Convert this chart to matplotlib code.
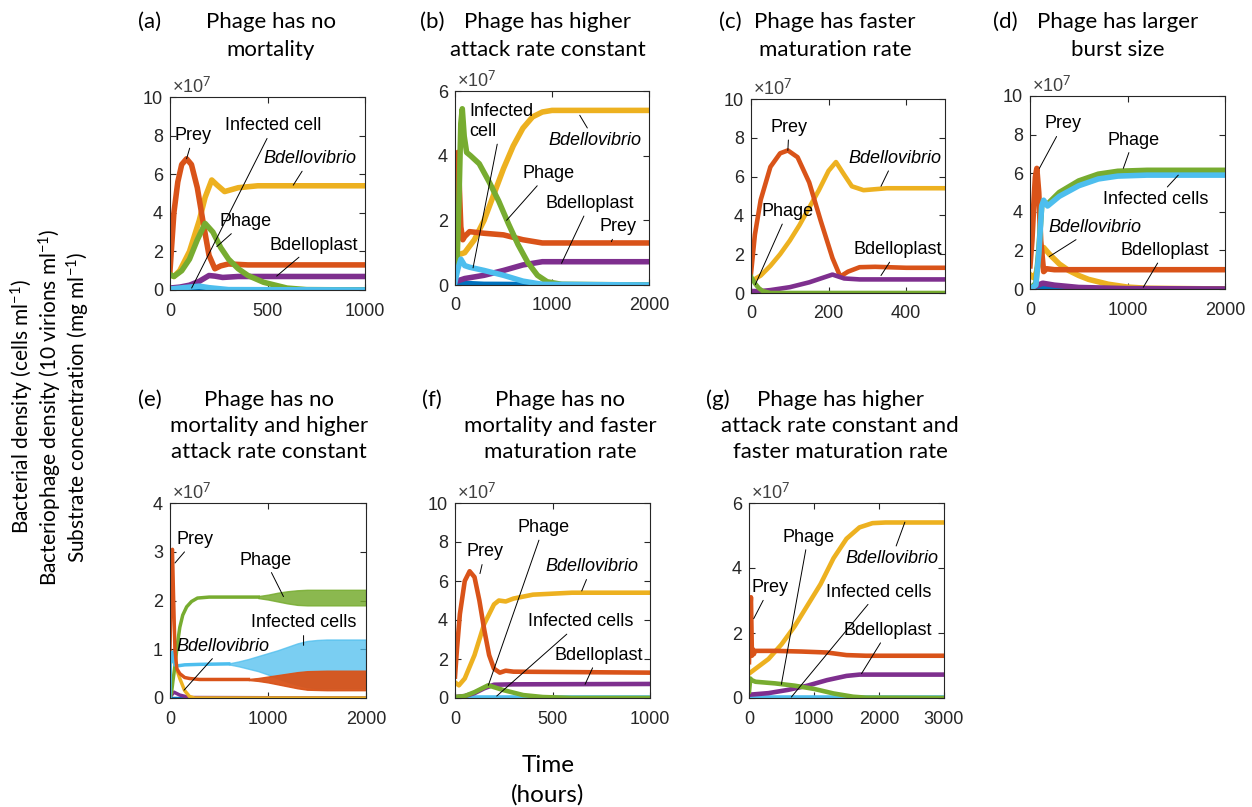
import matplotlib.pyplot as plt

W, H = 1252, 807

PREY_C = '#D95319'
BDELLO_C = '#EDB120'
PHAGE_C = '#77AC30'
PLAST_C = '#7E2F8E'
INF_C = '#4DBEEE'
SUB_C = '#0072BD'

# values, (time in hours, density in units of 1e7)
# (a) phage has no mortality
a_prey = [(0, 1.0), (10, 2.5), (20, 4.0), (40, 5.6), (60, 6.5), (85, 6.8), (110, 6.5),
          (140, 5.3), (170, 3.5), (200, 1.8), (230, 1.1), (260, 1.25), (300, 1.35), (400, 1.3), (1000, 1.3)]
a_bdello = [(0, 0.8), (20, 0.7), (50, 1.0), (100, 2.0), (150, 3.6), (180, 4.8), (214, 5.7),
            (240, 5.45), (280, 5.1), (350, 5.3), (450, 5.4), (1000, 5.4)]
a_phage = [(0, 0.8), (20, 0.7), (60, 1.0), (100, 1.6), (140, 2.6), (180, 3.45), (220, 3.0),
           (260, 2.2), (300, 1.6), (350, 1.1), (400, 0.75), (480, 0.4), (600, 0.1), (700, 0.02), (1000, 0)]
a_plast = [(0, 0.1), (50, 0.15), (100, 0.25), (150, 0.45), (200, 0.75), (230, 0.72), (270, 0.65),
           (350, 0.7), (1000, 0.7)]
a_inf = [(0, 0.05), (100, 0.15), (150, 0.2), (200, 0.12), (300, 0.02), (1000, 0)]
a_sub = [(0, 0.02), (100, 0.05), (200, 0.0), (1000, 0)]

# (b) phage has higher attack rate constant
b_prey = [(0, 1.1), (15, 2.5), (30, 4.1), (45, 3.0), (60, 1.8), (80, 1.4), (100, 1.5), (150, 1.65),
          (300, 1.6), (500, 1.55), (700, 1.4), (900, 1.3), (1100, 1.3), (2000, 1.3)]
b_bdello = [(0, 0.9), (100, 1.0), (200, 1.4), (300, 2.0), (400, 2.8), (500, 3.6), (600, 4.3),
            (700, 4.85), (800, 5.2), (900, 5.35), (1000, 5.4), (2000, 5.4)]
b_phage = [(0, 0.7), (20, 0.6), (40, 2.5), (60, 5.0), (75, 5.45), (95, 4.6), (120, 4.1), (160, 4.0),
           (250, 3.75), (350, 3.2), (450, 2.6), (550, 1.9), (650, 1.25), (750, 0.7), (850, 0.3),
           (950, 0.1), (1100, 0.02), (2000, 0)]
b_plast = [(0, 0.1), (100, 0.2), (300, 0.3), (500, 0.45), (700, 0.62), (900, 0.72), (1100, 0.72), (2000, 0.72)]
b_inf = [(0, 0.1), (30, 0.5), (60, 0.8), (100, 0.6), (150, 0.55), (300, 0.45), (500, 0.3),
         (700, 0.12), (900, 0.02), (2000, 0)]
b_sub = [(0, 0.02), (80, 0.05), (300, 0.02), (2000, 0)]

# (c) phage has faster maturation rate
c_prey = [(0, 1.0), (10, 3.0), (25, 4.8), (50, 6.5), (75, 7.2), (95, 7.35), (120, 7.0), (150, 5.7),
          (180, 3.7), (210, 1.8), (230, 0.85), (250, 1.1), (280, 1.33), (320, 1.35), (400, 1.3), (500, 1.3)]
c_bdello = [(0, 0.6), (25, 0.9), (50, 1.4), (75, 2.0), (100, 2.7), (125, 3.5), (150, 4.4),
            (175, 5.3), (200, 6.3), (219, 6.75), (240, 6.1), (260, 5.5), (290, 5.3), (350, 5.4), (500, 5.4)]
c_phage = [(0, 0.85), (10, 0.5), (20, 0.25), (30, 0.1), (50, 0), (500, 0)]
c_plast = [(0, 0.1), (25, 0.1), (50, 0.15), (100, 0.3), (150, 0.55), (210, 0.95), (240, 0.75),
           (280, 0.7), (500, 0.7)]
c_inf = [(0, 0.02), (500, 0.02)]

# (d) phage has larger burst size
d_prey = [(0, 1.2), (20, 2.5), (40, 4.5), (55, 5.8), (70, 6.25), (90, 5.0), (110, 2.5), (140, 0.9),
          (170, 1.05), (250, 1.0), (2000, 1.0)]
d_phage = [(0, 0), (60, 0.3), (90, 2.0), (120, 4.3), (140, 4.5), (180, 4.4), (300, 5.0), (500, 5.6),
           (700, 5.95), (900, 6.1), (1200, 6.15), (2000, 6.15)]
d_inf = [(0, 0), (60, 0.2), (90, 1.8), (120, 4.3), (140, 4.6), (180, 4.3), (300, 4.8), (500, 5.35),
         (700, 5.7), (900, 5.85), (1200, 5.9), (2000, 5.9)]
d_bdello = [(0, 0.75), (30, 0.6), (60, 0.8), (100, 1.5), (140, 2.15), (200, 1.8), (300, 1.3),
            (400, 0.95), (500, 0.7), (600, 0.5), (800, 0.25), (1000, 0.1), (1200, 0.04), (2000, 0)]
d_plast = [(0, 0.05), (60, 0.15), (130, 0.3), (250, 0.2), (500, 0.08), (1000, 0.02), (2000, 0)]
d_sub = [(0, 0.02), (100, 0.06), (300, 0.01), (2000, 0)]

# (e) no mortality and higher attack rate constant (oscillating tails as envelopes)
e_prey = [(0, 1.0), (10, 2.0), (20, 2.9), (25, 3.05), (35, 2.2), (50, 1.0), (70, 0.6), (100, 0.5),
          (150, 0.42), (200, 0.4), (300, 0.38), (800, 0.38)]
e_phage = [(0, 0), (15, 0.1), (30, 0.35), (50, 0.65), (75, 1.1), (100, 1.45), (130, 1.7), (170, 1.87),
           (220, 1.98), (280, 2.05), (400, 2.07), (900, 2.07)]
e_inf = [(0, 0.0), (5, 0.95), (20, 0.75), (35, 0.95), (50, 0.68), (80, 0.66), (150, 0.68),
         (300, 0.69), (600, 0.7)]
e_bdello = [(0, 0.85), (50, 0.7), (100, 0.4), (150, 0.15), (200, 0.03), (250, 0), (2000, 0)]
e_plast = [(0, 0.02), (40, 0.12), (100, 0.06), (200, 0.01), (2000, 0)]
e_sub = [(0, 0.01), (2000, 0.01)]
# envelopes: (time, lower, upper)
e_prey_band = [(800, 0.37, 0.39), (900, 0.35, 0.41), (1000, 0.32, 0.44), (1100, 0.28, 0.47),
               (1200, 0.24, 0.5), (1300, 0.2, 0.53), (1400, 0.17, 0.55), (1600, 0.16, 0.56),
               (1800, 0.16, 0.56), (2000, 0.16, 0.56)]
e_phage_band = [(900, 2.05, 2.09), (1000, 2.02, 2.12), (1100, 1.98, 2.16), (1200, 1.94, 2.19),
                (1300, 1.91, 2.21), (1400, 1.9, 2.22), (1600, 1.9, 2.22), (1800, 1.9, 2.22), (2000, 1.9, 2.22)]
e_inf_band = [(600, 0.69, 0.71), (700, 0.65, 0.75), (800, 0.6, 0.8), (900, 0.55, 0.86), (1000, 0.48, 0.92),
              (1100, 0.4, 0.98), (1200, 0.33, 1.05), (1300, 0.27, 1.12), (1400, 0.22, 1.17),
              (1500, 0.2, 1.19), (1600, 0.2, 1.2), (1800, 0.2, 1.2), (2000, 0.2, 1.2)]

# (f) no mortality and faster maturation rate
f_prey = [(0, 1.1), (10, 2.5), (25, 4.3), (50, 6.0), (75, 6.5), (100, 6.2), (125, 5.0), (150, 3.5),
          (175, 2.2), (200, 1.5), (230, 1.3), (260, 1.4), (300, 1.35), (1000, 1.3)]
f_bdello = [(0, 0.8), (20, 0.65), (50, 1.0), (100, 2.2), (150, 3.8), (200, 4.8), (225, 5.0),
            (260, 4.95), (300, 5.1), (400, 5.3), (600, 5.4), (1000, 5.4)]
f_phage = [(0, 0.05), (50, 0.1), (100, 0.3), (170, 0.65), (250, 0.4), (350, 0.15), (450, 0.05),
           (600, 0), (1000, 0)]
f_plast = [(0, 0.05), (50, 0.1), (100, 0.25), (150, 0.5), (200, 0.68), (300, 0.7), (1000, 0.72)]
f_inf = [(0, 0.05), (1000, 0.05)]

# (g) higher attack rate constant and faster maturation rate
g_prey = [(0, 1.1), (15, 2.5), (30, 3.1), (45, 1.3), (60, 1.5), (75, 1.35), (90, 1.45), (120, 1.45),
          (400, 1.45), (800, 1.43), (1200, 1.4), (1500, 1.32), (1800, 1.3), (3000, 1.3)]
g_bdello = [(0, 0.75), (100, 0.9), (300, 1.2), (500, 1.65), (700, 2.2), (900, 2.85), (1100, 3.5),
            (1300, 4.3), (1500, 4.9), (1700, 5.25), (1900, 5.38), (2100, 5.4), (3000, 5.4)]
g_phage = [(0, 0.2), (20, 0.6), (40, 0.55), (100, 0.5), (400, 0.45), (700, 0.38), (1000, 0.28),
           (1300, 0.14), (1600, 0.04), (1800, 0.01), (3000, 0)]
g_plast = [(0, 0.1), (300, 0.15), (600, 0.25), (900, 0.38), (1200, 0.55), (1500, 0.68), (1700, 0.72), (3000, 0.72)]
g_inf = [(0, 0.02), (3000, 0.02)]

plt.rcParams['font.family'] = ['Liberation Sans', 'DejaVu Sans']
plt.rcParams['mathtext.fontset'] = 'custom'
plt.rcParams['mathtext.rm'] = 'Lato'
plt.rcParams['mathtext.it'] = 'Lato:italic'

fig = plt.figure(figsize=(W / 100, H / 100), dpi=100)

CAL = 'Lato'


def fx(x):
    return x / W


def fy(y):
    return 1 - y / H


def make_ax(l, t, r, b, xlim, xticks, ylim, yticks):
    ax = fig.add_axes([fx(l), fy(b), (r - l) / W, (b - t) / H])
    ax.set_xlim(*xlim)
    ax.set_ylim(*ylim)
    ax.set_xticks(xticks)
    ax.set_yticks(yticks)
    ax.tick_params(direction='in', top=True, right=True, length=4.5, width=0.8,
                   labelsize=13, colors='#262626')
    ax.tick_params(axis='x', pad=9)
    ax.tick_params(axis='y', pad=5)
    for s in ax.spines.values():
        s.set_color('#262626')
        s.set_linewidth(0.8)
    ax.text(0.01, 1.0, '\u00d710$^{7}$', transform=ax.transAxes, fontsize=13,
            color='#404040', ha='left', va='bottom', family='Liberation Sans')
    return ax


def curve(ax, pts, color, lw=4, z=2):
    ts = [p[0] for p in pts]
    vs = [p[1] for p in pts]
    ax.plot(ts, vs, color=color, lw=lw, solid_joinstyle='round', zorder=z, clip_on=True)


def band(ax, pts, color, alpha=0.8, z=2):
    ts = [p[0] for p in pts]
    lo = [p[1] for p in pts]
    hi = [p[2] for p in pts]
    ax.fill_between(ts, lo, hi, color=color, lw=1.0, alpha=alpha, zorder=z)


def note(ax, text, xt, yt, xa, ya, italic=False, ha='center'):
    ax.annotate(text, xy=(xa, ya), xytext=(xt, yt), ha=ha, va='center', fontsize=13,
                fontstyle='italic' if italic else 'normal',
                arrowprops=dict(arrowstyle='-', color='k', lw=0.7, shrinkA=1, shrinkB=0),
                annotation_clip=False, zorder=5)


def title(lab, lx, ly, lines, cx, ys):
    fig.text(fx(lx), fy(ly), lab, family=CAL, fontsize=16, ha='center', va='center')
    for line, y in zip(lines, ys):
        fig.text(fx(cx), fy(y), line, family=CAL, fontsize=16, ha='center', va='center')


# (a)
ax = make_ax(170, 97, 365, 290, (0, 1000), [0, 500, 1000], (0, 10), [0, 2, 4, 6, 8, 10])
curve(ax, a_sub, SUB_C)
curve(ax, a_bdello, BDELLO_C)
curve(ax, a_prey, PREY_C)
curve(ax, a_plast, PLAST_C)
curve(ax, a_phage, PHAGE_C)
curve(ax, a_inf, INF_C)
note(ax, 'Prey', 120, 8.0, 85, 6.8)
note(ax, 'Infected cell', 530, 8.5, 111, 0.1)
note(ax, 'Bdellovibrio', 718, 6.8, 632, 5.43, italic=True)
note(ax, 'Phage', 385, 3.55, 240, 2.25)
note(ax, 'Bdelloplast', 735, 2.33, 547, 0.72)
title('(a)', 150, 22, ['Phage has no', 'mortality'], 271, [22, 50])

# (b)
ax = make_ax(455, 91, 649, 285, (0, 2000), [0, 1000, 2000], (0, 6), [0, 2, 4, 6])
curve(ax, b_sub, SUB_C)
curve(ax, b_bdello, BDELLO_C)
curve(ax, b_prey, PREY_C)
curve(ax, b_plast, PLAST_C)
curve(ax, b_phage, PHAGE_C)
curve(ax, b_inf, INF_C)
note(ax, 'Infected\ncell', 150, 5.05, 186, 0.53, ha='left')
note(ax, 'Bdellovibrio', 1441, 4.47, 1286, 5.25, italic=True)
note(ax, 'Phage', 960, 3.45, 532, 2.0)
note(ax, 'Bdelloplast', 1390, 2.52, 1098, 0.67)
note(ax, 'Prey', 1681, 1.8, 1612, 1.34)
title('(b)', 432, 22, ['Phage has higher', 'attack rate constant'], 548, [22, 50])

# (c)
ax = make_ax(751, 99, 945, 293, (0, 500), [0, 200, 400], (0, 10), [0, 2, 4, 6, 8, 10])
curve(ax, c_inf, INF_C, lw=3.3)
curve(ax, c_bdello, BDELLO_C, lw=3.3)
curve(ax, c_prey, PREY_C, lw=3.3)
curve(ax, c_plast, PLAST_C, lw=3.3)
curve(ax, c_phage, PHAGE_C, lw=3.3)
note(ax, 'Prey', 98, 8.54, 95, 7.35)
note(ax, 'Bdellovibrio', 370, 6.94, 335, 5.5, italic=True)
note(ax, 'Phage', 95, 4.2, 11, 0.43)
note(ax, 'Bdelloplast', 378, 2.23, 335, 0.9)
title('(c)', 730, 22, ['Phage has faster', 'maturation rate'], 835, [22, 50])

# (d)
ax = make_ax(1030, 96, 1225, 289, (0, 2000), [0, 1000, 2000], (0, 10), [0, 2, 4, 6, 8, 10])
curve(ax, d_sub, SUB_C)
curve(ax, d_bdello, BDELLO_C)
curve(ax, d_plast, PLAST_C)
curve(ax, d_prey, PREY_C)
curve(ax, d_phage, PHAGE_C)
curve(ax, d_inf, INF_C)
note(ax, 'Prey', 342, 8.55, 96, 6.25)
note(ax, 'Phage', 1060, 7.72, 957, 6.25)
note(ax, 'Infected cells', 1292, 4.65, 1521, 5.9)
note(ax, 'Bdellovibrio', 667, 3.18, 198, 1.68, italic=True)
note(ax, 'Bdelloplast', 1385, 1.99, 1162, 0.09)
title('(d)', 1005, 22, ['Phage has larger', 'burst size'], 1118, [22, 50])

# (e)
ax = make_ax(170, 503, 366, 698, (0, 2000), [0, 1000, 2000], (0, 4), [0, 1, 2, 3, 4])
curve(ax, e_sub, SUB_C, lw=2.5)
curve(ax, e_plast, PLAST_C, lw=2.5)
curve(ax, e_bdello, BDELLO_C, lw=2.5)
curve(ax, e_phage, PHAGE_C, lw=2.5)
band(ax, e_phage_band, PHAGE_C, alpha=0.85)
curve(ax, e_inf, INF_C, lw=2.5)
band(ax, e_inf_band, INF_C, alpha=0.75)
curve(ax, e_prey, PREY_C, lw=2.5)
band(ax, e_prey_band, PREY_C, alpha=0.95)
note(ax, 'Prey', 256, 3.25, 51, 2.77)
note(ax, 'Phage', 971, 2.83, 1158, 2.08)
note(ax, 'Infected cells', 1363, 1.54, 1363, 1.08)
note(ax, 'Bdellovibrio', 545, 1.06, 143, 0.16, italic=True)
title('(e)', 150, 400, ['Phage has no', 'mortality and higher', 'attack rate constant'], 269, [400, 426, 452])

# (f)
ax = make_ax(455, 503, 650, 698, (0, 1000), [0, 500, 1000], (0, 10), [0, 2, 4, 6, 8, 10])
curve(ax, f_inf, INF_C, lw=3.3)
curve(ax, f_bdello, BDELLO_C, lw=3.3)
curve(ax, f_prey, PREY_C, lw=3.3)
curve(ax, f_plast, PLAST_C, lw=3.3)
curve(ax, f_phage, PHAGE_C, lw=3.3)
note(ax, 'Prey', 154, 7.49, 128, 6.38)
note(ax, 'Phage', 453, 8.74, 171, 0.65)
note(ax, 'Bdellovibrio', 701, 6.72, 650, 5.49, italic=True)
note(ax, 'Infected cells', 644, 3.9, 214, 0.1)
note(ax, 'Bdelloplast', 735, 2.19, 667, 0.7)
title('(f)', 432, 400, ['Phage has no', 'mortality and faster', 'maturation rate'], 560, [400, 426, 452])

# (g)
ax = make_ax(749, 503, 944, 698, (0, 3000), [0, 1000, 2000, 3000], (0, 6), [0, 2, 4, 6])
curve(ax, g_inf, INF_C, lw=3.3)
curve(ax, g_bdello, BDELLO_C, lw=3.3)
curve(ax, g_prey, PREY_C, lw=3.3)
curve(ax, g_plast, PLAST_C, lw=3.3)
curve(ax, g_phage, PHAGE_C, lw=3.3)
note(ax, 'Prey', 318, 3.39, 72, 2.44)
note(ax, 'Phage', 909, 4.95, 498, 0.42)
note(ax, 'Bdellovibrio', 2193, 4.29, 2398, 5.41, italic=True)
note(ax, 'Infected cells', 1988, 3.26, 652, 0.03)
note(ax, 'Bdelloplast', 2142, 2.08, 1731, 0.75)
title('(g)', 718, 400, ['Phage has higher', 'attack rate constant and', 'faster maturation rate'], 840, [400, 426, 452])

# shared axis labels
ylab = ['Bacterial density (cells ml$^{-1}$)',
        'Bacteriophage density (10 virions ml$^{-1}$)',
        'Substrate concentration (mg ml$^{-1}$)']
for i, s in enumerate(ylab):
    fig.text(fx(22 + 28 * i), fy(407), s, family=CAL, fontsize=15, rotation=90,
             ha='center', va='center')
fig.text(fx(548), fy(765), 'Time', family=CAL, fontsize=17.5, ha='center', va='center')
fig.text(fx(548), fy(795), '(hours)', family=CAL, fontsize=17.5, ha='center', va='center')

fig.savefig('out.png', dpi=100)
